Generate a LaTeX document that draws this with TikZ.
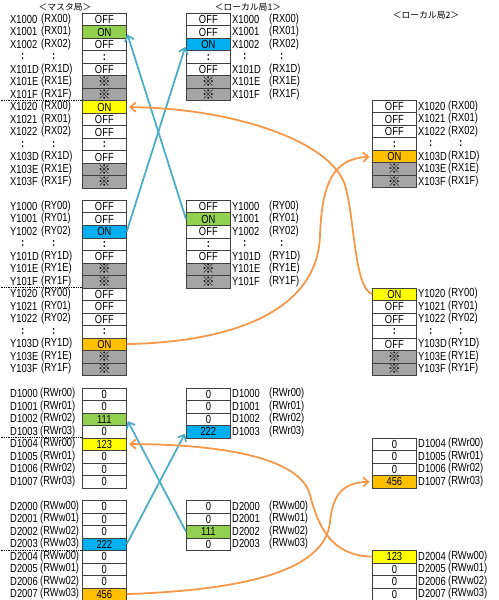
\documentclass[tikz,border=0pt]{standalone}
\usepackage{fontspec}
\setmainfont{Liberation Sans}[FakeStretch=0.8]
\newfontfamily\cjk{Noto Sans CJK JP}
\usetikzlibrary{arrows.meta}
\definecolor{ongreen}{RGB}{146,208,80}
\definecolor{onblue}{RGB}{0,176,240}
\definecolor{onyellow}{RGB}{255,255,0}
\definecolor{onorange}{RGB}{255,192,0}
\definecolor{shade}{RGB}{165,165,165}
\definecolor{linkblue}{RGB}{75,172,198}
\definecolor{linkorange}{RGB}{247,150,70}
\newcommand{\kome}{{\cjk\fontsize{11}{11}\selectfont ※}}
\newcommand{\cln}{\makebox[0.75cm][c]{\textbf{:}}}

\begin{document}
\begin{tikzpicture}[x=0.03cm, y=-0.03cm,
    cell/.style={draw=black!75, line width=0.6pt, anchor=north west, minimum width=1.32cm,
      minimum height=0.375cm, inner sep=0pt, font=\fontsize{10}{10}\selectfont},
    lbl/.style={anchor=west, inner sep=0pt, font=\fontsize{10}{10}\selectfont},
    heading/.style={font=\cjk\fontsize{7.5}{8}\selectfont},
    sep/.style={densely dotted, line width=0.5pt},
    link/.style={-{Straight Barb[length=1.6mm,width=2.8mm]}, line width=1.5pt, shorten >=2pt}]
  \useasboundingbox (0,0) rectangle (498,600);

  % titles
  \node[heading] (ttlm) at (65,7) {＜マスタ局＞};
  \node[heading] (ttla) at (248,7) {＜ローカル局1＞};
  \node[heading] (ttlb) at (426,15) {＜ローカル局2＞};

  % master station: X
  \foreach \v/\f/\a/\b [count=\i from 0] in {OFF/white/X1000/{(RX00)}, ON/ongreen/X1001/{(RX01)},
      OFF/white/X1002/{(RX02)}, \textbf{:}/white/\cln/\cln, OFF/white/X101D/{(RX1D)}, \kome/shade/X101E/{(RX1E)},
      \kome/shade/X101F/{(RX1F)}, ON/onyellow/X1020/{(RX00)}, OFF/white/X1021/{(RX01)},
      OFF/white/X1022/{(RX02)}, \textbf{:}/white/\cln/\cln, OFF/white/X103D/{(RX1D)}, \kome/shade/X103E/{(RX1E)},
      \kome/shade/X103F/{(RX1F)}} {
    \node[cell, fill=\f] (mx\i) at (82,{13+12.5*\i}) {\v};
    \node[lbl] (mxa\i) at (10,{19.25+12.5*\i}) {\a};
    \node[lbl] (mxb\i) at (41,{19.25+12.5*\i}) {\b};
  }
  % master station: Y
  \foreach \v/\f/\a/\b [count=\i from 0] in {OFF/white/Y1000/{(RY00)}, OFF/white/Y1001/{(RY01)},
      ON/onblue/Y1002/{(RY02)}, \textbf{:}/white/\cln/\cln, OFF/white/Y101D/{(RY1D)}, \kome/shade/Y101E/{(RY1E)},
      \kome/shade/Y101F/{(RY1F)}, OFF/white/Y1020/{(RY00)}, OFF/white/Y1021/{(RY01)},
      OFF/white/Y1022/{(RY02)}, \textbf{:}/white/\cln/\cln, ON/onorange/Y103D/{(RY1D)}, \kome/shade/Y103E/{(RY1E)},
      \kome/shade/Y103F/{(RY1F)}} {
    \node[cell, fill=\f] (my\i) at (82,{200+12.5*\i}) {\v};
    \node[lbl] (mya\i) at (10,{206.25+12.5*\i}) {\a};
    \node[lbl] (myb\i) at (41,{206.25+12.5*\i}) {\b};
  }
  % master station: RWr
  \foreach \v/\f/\a/\b [count=\i from 0] in {0/white/D1000/{(RWr00)}, 0/white/D1001/{(RWr01)},
      111/ongreen/D1002/{(RWr02)}, 0/white/D1003/{(RWr03)}, 123/onyellow/D1004/{(RWr00)},
      0/white/D1005/{(RWr01)}, 0/white/D1006/{(RWr02)}, 0/white/D1007/{(RWr03)}} {
    \node[cell, fill=\f] (md\i) at (82,{387.5+12.5*\i}) {\v};
    \node[lbl] (mda\i) at (10,{393.75+12.5*\i}) {\a};
    \node[lbl] (mdb\i) at (40,{393.75+12.5*\i}) {\b};
  }
  % master station: RWw
  \foreach \v/\f/\a/\b [count=\i from 0] in {0/white/D2000/{(RWw00)}, 0/white/D2001/{(RWw01)},
      0/white/D2002/{(RWw02)}, 222/onblue/D2003/{(RWw03)}, 0/white/D2004/{(RWw00)},
      0/white/D2005/{(RWw01)}, 0/white/D2006/{(RWw02)}, 456/onorange/D2007/{(RWw03)}} {
    \node[cell, fill=\f] (mw\i) at (82,{500+12.5*\i}) {\v};
    \node[lbl] (mwa\i) at (10,{506.25+12.5*\i}) {\a};
    \node[lbl] (mwb\i) at (40,{506.25+12.5*\i}) {\b};
  }
  \draw[sep] (mx7.north west) -- ++(-82,0);
  \draw[sep] (my7.north west) -- ++(-82,0);
  \draw[sep] (md4.north west) -- ++(-82,0);
  \draw[sep] (mw4.north west) -- ++(-82,0);

  % local station 1
  \foreach \v/\f/\a/\b [count=\i from 0] in {OFF/white/X1000/{(RX00)}, OFF/white/X1001/{(RX01)},
      ON/onblue/X1002/{(RX02)}, \textbf{:}/white/\cln/\cln, OFF/white/X101D/{(RX1D)}, \kome/shade/X101E/{(RX1E)},
      \kome/shade/X101F/{(RX1F)}} {
    \node[cell, fill=\f] (ax\i) at (186,{13+12.5*\i}) {\v};
    \node[lbl] (axa\i) at (232,{19.25+12.5*\i}) {\a};
    \node[lbl] (axb\i) at (269,{19.25+12.5*\i}) {\b};
  }
  \foreach \v/\f/\a/\b [count=\i from 0] in {OFF/white/Y1000/{(RY00)}, ON/ongreen/Y1001/{(RY01)},
      OFF/white/Y1002/{(RY02)}, \textbf{:}/white/\cln/\cln, OFF/white/Y101D/{(RY1D)}, \kome/shade/Y101E/{(RY1E)},
      \kome/shade/Y101F/{(RY1F)}} {
    \node[cell, fill=\f] (ay\i) at (186,{200+12.5*\i}) {\v};
    \node[lbl] (aya\i) at (232,{206.25+12.5*\i}) {\a};
    \node[lbl] (ayb\i) at (269,{206.25+12.5*\i}) {\b};
  }
  \foreach \v/\f/\a/\b [count=\i from 0] in {0/white/D1000/{(RWr00)}, 0/white/D1001/{(RWr01)},
      0/white/D1002/{(RWr02)}, 222/onblue/D1003/{(RWr03)}} {
    \node[cell, fill=\f] (ad\i) at (186,{387.5+12.5*\i}) {\v};
    \node[lbl] (ada\i) at (232,{393.75+12.5*\i}) {\a};
    \node[lbl] (adb\i) at (269,{393.75+12.5*\i}) {\b};
  }
  \foreach \v/\f/\a/\b [count=\i from 0] in {0/white/D2000/{(RWw00)}, 0/white/D2001/{(RWw01)},
      111/ongreen/D2002/{(RWw02)}, 0/white/D2003/{(RWw03)}} {
    \node[cell, fill=\f] (aw\i) at (186,{500+12.5*\i}) {\v};
    \node[lbl] (awa\i) at (232,{506.25+12.5*\i}) {\a};
    \node[lbl] (awb\i) at (269,{506.25+12.5*\i}) {\b};
  }

  % local station 2
  \foreach \v/\f/\a/\b [count=\i from 0] in {OFF/white/X1020/{(RX00)}, OFF/white/X1021/{(RX01)},
      OFF/white/X1022/{(RX02)}, \textbf{:}/white/\cln/\cln, ON/onorange/X103D/{(RX1D)}, \kome/shade/X103E/{(RX1E)},
      \kome/shade/X103F/{(RX1F)}} {
    \node[cell, fill=\f] (bx\i) at (372,{100+12.5*\i}) {\v};
    \node[lbl] (bxa\i) at (418,{106.25+12.5*\i}) {\a};
    \node[lbl] (bxb\i) at (448,{106.25+12.5*\i}) {\b};
  }
  \foreach \v/\f/\a/\b [count=\i from 0] in {ON/onyellow/Y1020/{(RY00)}, OFF/white/Y1021/{(RY01)},
      OFF/white/Y1022/{(RY02)}, \textbf{:}/white/\cln/\cln, OFF/white/Y103D/{(RY1D)}, \kome/shade/Y103E/{(RY1E)},
      \kome/shade/Y103F/{(RY1F)}} {
    \node[cell, fill=\f] (by\i) at (372,{287.5+12.5*\i}) {\v};
    \node[lbl] (bya\i) at (418,{293.75+12.5*\i}) {\a};
    \node[lbl] (byb\i) at (448,{293.75+12.5*\i}) {\b};
  }
  \foreach \v/\f/\a/\b [count=\i from 0] in {0/white/D1004/{(RWr00)}, 0/white/D1005/{(RWr01)},
      0/white/D1006/{(RWr02)}, 456/onorange/D1007/{(RWr03)}} {
    \node[cell, fill=\f] (bd\i) at (372,{437.5+12.5*\i}) {\v};
    \node[lbl] (bda\i) at (418,{443.75+12.5*\i}) {\a};
    \node[lbl] (bdb\i) at (448,{443.75+12.5*\i}) {\b};
  }
  \foreach \v/\f/\a/\b [count=\i from 0] in {123/onyellow/D2004/{(RWw00)}, 0/white/D2005/{(RWw01)},
      0/white/D2006/{(RWw02)}, 0/white/D2007/{(RWw03)}} {
    \node[cell, fill=\f] (bw\i) at (372,{550+12.5*\i}) {\v};
    \node[lbl] (bwa\i) at (418,{556.25+12.5*\i}) {\a};
    \node[lbl] (bwb\i) at (448,{556.25+12.5*\i}) {\b};
  }

  % master <-> local 1 (blue)
  \draw[link, color=linkblue] (my2.east) -- (ax2.west);
  \draw[link, color=linkblue] (ay1.west) -- (mx1.east);
  \draw[link, color=linkblue] (mw3.east) -- (ad3.west);
  \draw[link, color=linkblue] (aw2.west) -- (md2.east);

  % master <-> local 2 (orange)
  \draw[link, color=linkorange] (by0.west) .. controls +(-18,-7) and +(10,35) .. (345,185)
    .. controls +(-15,-45) and +(104,1) .. (mx7.east);
  \draw[link, color=linkorange] (my11.east) .. controls +(104,-2) and +(-2,77) .. (320,235)
    .. controls +(2,-55) and +(-37,2) .. (bx4.west);
  \draw[link, color=linkorange] (bw0.west) .. controls +(-42,-1) and +(8,30) .. (310,495)
    .. controls +(-10,-40) and +(84,0) .. (md4.east);
  \draw[link, color=linkorange] (mw7.east) .. controls +(114,-4) and +(-5,50) .. (330,522)
    .. controls +(3,-30) and +(-27,1) .. (bd3.west);
\end{tikzpicture}
\end{document}
